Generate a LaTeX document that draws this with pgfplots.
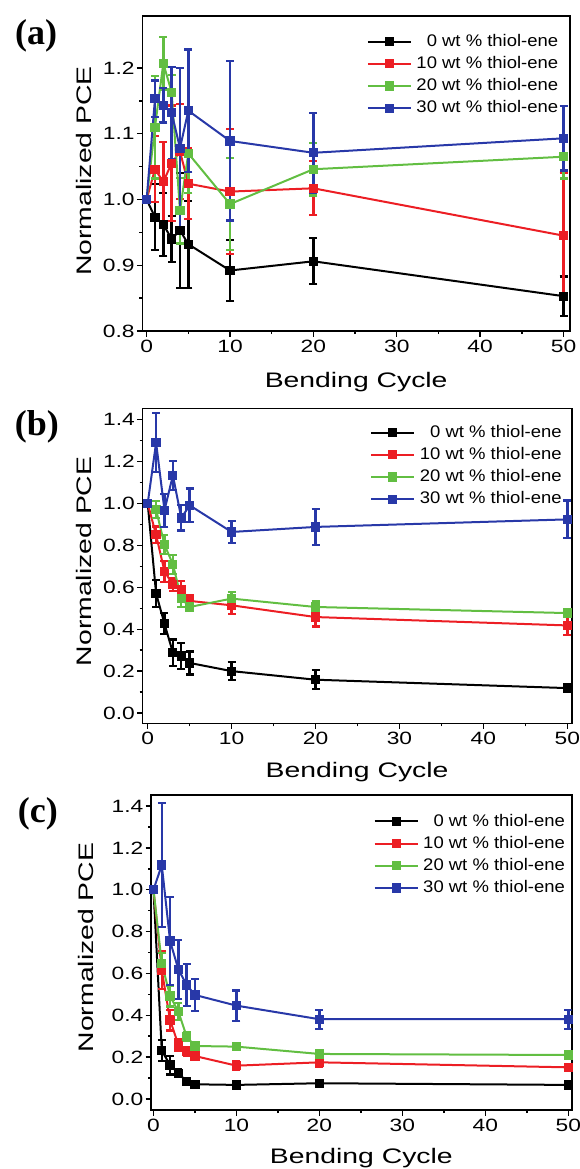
\documentclass[border=0pt]{standalone}
\usepackage{pgfplots}
\pgfplotsset{compat=1.18}
\usepackage{pgfplotstable}
\usepackage{fontspec}
\setmainfont{Liberation Sans}
\newfontfamily\labelserif{Liberation Serif}
\newfontfamily\tickfont[FakeStretch=1.28]{Liberation Sans}
\newfontfamily\titlefont[FakeStretch=1.35]{Liberation Sans}
\newfontfamily\legfont[FakeStretch=1.1]{Liberation Sans}
\definecolor{cK}{RGB}{0,0,0}
\definecolor{cR}{RGB}{236,30,36}
\definecolor{cG}{RGB}{98,190,66}
\definecolor{cB}{RGB}{40,56,168}

\pgfplotstableread{
x  k     ke    r     re    g     ge    b     be
0  1.000 0.000 1.000 0.000 1.000 0.000 1.000 0.000
1  0.973 0.050 1.046 0.050 1.110 0.078 1.153 0.028
2  0.962 0.048 1.027 0.060 1.207 0.040 1.143 0.026
3  0.940 0.035 1.055 0.088 1.163 0.026 1.132 0.070
4  0.953 0.087 1.073 0.072 0.983 0.050 1.078 0.122
5  0.932 0.066 1.024 0.054 1.070 0.060 1.135 0.093
10 0.892 0.046 1.012 0.095 0.993 0.070 1.089 0.121
20 0.906 0.035 1.017 0.041 1.046 0.040 1.071 0.061
50 0.853 0.030 0.945 0.095 1.065 0.033 1.093 0.049
}\dataA

\pgfplotstableread{
x  k     ke    r     re    g     ge    b     be
0  1.000 0.000 1.000 0.000 1.000 0.000 1.000 0.000
1  0.570 0.063 0.850 0.040 0.970 0.040 1.290 0.140
2  0.426 0.050 0.676 0.050 0.803 0.045 0.967 0.080
3  0.288 0.063 0.612 0.030 0.710 0.045 1.134 0.070
4  0.272 0.063 0.589 0.040 0.547 0.040 0.931 0.060
5  0.239 0.055 0.535 0.030 0.506 0.020 0.991 0.080
10 0.200 0.042 0.514 0.040 0.546 0.030 0.864 0.052
20 0.159 0.046 0.458 0.045 0.506 0.030 0.888 0.085
50 0.119 0.020 0.418 0.045 0.477 0.020 0.924 0.090
}\dataB

\pgfplotstableread{
x  k     ke    r     re    g     ge    b     be
0  1.000 0.000 1.000 0.000 1.000 0.000 1.000 0.000
1  0.231 0.050 0.616 0.090 0.648 0.050 1.118 0.295
2  0.162 0.045 0.377 0.050 0.492 0.050 0.755 0.210
3  0.123 0.020 0.258 0.030 0.417 0.040 0.619 0.140
4  0.083 0.015 0.226 0.020 0.298 0.020 0.545 0.100
5  0.070 0.010 0.205 0.020 0.253 0.015 0.497 0.077
10 0.067 0.010 0.159 0.020 0.250 0.015 0.446 0.072
20 0.075 0.010 0.175 0.020 0.215 0.015 0.381 0.045
50 0.067 0.010 0.151 0.015 0.210 0.015 0.381 0.045
}\dataC

\pgfplotsset{
  legend image code/.code={\draw[mark repeat=2,mark phase=2,#1] plot coordinates {(0pt,0pt) (21.5pt,0pt) (43pt,0pt)};},
}
\pgfplotsset{
  panel/.style={
    scale only axis,
    height=315pt,
    axis line style={line width=1.6pt},
    tick align=outside, tick pos=left,
    major tick length=5.5pt, minor tick length=3pt,
    every tick/.append style={black, line width=1.4pt},
    xtick={0,10,20,30,40,50}, minor x tick num=1, minor y tick num=1,
    tick label style={font=\tickfont\fontsize{17.8}{20}\selectfont},
    /pgf/number format/assume math mode=true,
    yticklabel style={inner sep=2pt, /pgf/number format/.cd, fixed, fixed zerofill, precision=1},
    xticklabel style={inner sep=3.5pt},
    xlabel={Bending Cycle}, ylabel={Normalized PCE},
    xlabel style={font=\titlefont\fontsize{21}{24}\selectfont, inner sep=0pt, anchor=north},
    ylabel style={font=\titlefont\fontsize{21}{24}\selectfont, inner sep=0pt, anchor=center},
    legend cell align=right,
    legend style={draw=none, fill=none, inner sep=0pt, outer sep=0pt,
      font=\legfont\fontsize{16.8}{20}\selectfont, row sep=2.7pt, column sep=3pt,
      nodes={inner sep=1.5pt, text height=13pt, text depth=3.5pt},
      anchor=north east},
  },
  ser/.style={line width=2pt, mark=square*, mark size=3.6pt,
    mark options={solid},
    error bars/.cd, y dir=both, y explicit,
    error bar style={line width=2.4pt, solid},
    error mark options={rotate=90, mark size=4pt, line width=2.2pt},
    /pgfplots/.cd},
}

\begin{document}
\begin{tikzpicture}
\useasboundingbox (0,0) rectangle (579pt,-1169pt);

% ---------- (a)
\begin{axis}[panel, at={(142.3pt,-16pt)}, anchor=north west, width=427.7pt,
  xmin=-0.52, xmax=50.78, ymin=0.8, ymax=1.279,
  ytick={0.8,0.9,1.0,1.1,1.2},
  xlabel style={at={(axis description cs:0.5,0)}, yshift=-41pt},
  ylabel style={at={(axis description cs:-0.136,0.508)}},
  legend style={at={(axis description cs:0.976,0.950)}}]
\addplot[cK, ser] table[x=x, y=k, y error=ke] {\dataA};
\addplot[cR, ser] table[x=x, y=r, y error=re] {\dataA};
\addplot[cG, ser] table[x=x, y=g, y error=ge] {\dataA};
\addplot[cB, ser] table[x=x, y=b, y error=be] {\dataA};
\legend{0 wt \% thiol-ene, 10 wt \% thiol-ene, 20 wt \% thiol-ene, 30 wt \% thiol-ene}
\end{axis}

% ---------- (b)
\begin{axis}[panel, at={(142.5pt,-408.3pt)}, anchor=north west, width=429.2pt,
  xmin=-0.62, xmax=50.52, ymin=-0.049, ymax=1.454,
  ytick={0,0.2,0.4,0.6,0.8,1.0,1.2,1.4},
  xlabel style={at={(axis description cs:0.5,0)}, yshift=-38.5pt},
  ylabel style={at={(axis description cs:-0.1366,0.514)}},
  legend style={at={(axis description cs:0.980,0.954)}}]
\addplot[cK, ser] table[x=x, y=k, y error=ke] {\dataB};
\addplot[cR, ser] table[x=x, y=r, y error=re] {\dataB};
\addplot[cG, ser] table[x=x, y=g, y error=ge] {\dataB};
\addplot[cB, ser] table[x=x, y=b, y error=be] {\dataB};
\legend{0 wt \% thiol-ene, 10 wt \% thiol-ene, 20 wt \% thiol-ene, 30 wt \% thiol-ene}
\end{axis}

% ---------- (c)
\begin{axis}[panel, at={(151pt,-795pt)}, anchor=north west, width=420.7pt,
  xmin=-0.3, xmax=50.41, ymin=-0.053, ymax=1.453,
  ytick={0,0.2,0.4,0.6,0.8,1.0,1.2,1.4},
  xlabel style={at={(axis description cs:0.5,0)}, yshift=-38.3pt},
  ylabel style={at={(axis description cs:-0.1545,0.516)}},
  legend style={at={(axis description cs:0.9876,0.947)}}]
\addplot[cK, ser] table[x=x, y=k, y error=ke] {\dataC};
\addplot[cR, ser] table[x=x, y=r, y error=re] {\dataC};
\addplot[cG, ser] table[x=x, y=g, y error=ge] {\dataC};
\addplot[cB, ser] table[x=x, y=b, y error=be] {\dataC};
\legend{0 wt \% thiol-ene, 10 wt \% thiol-ene, 20 wt \% thiol-ene, 30 wt \% thiol-ene}
\end{axis}

\node[font=\labelserif\bfseries\fontsize{36}{40}\selectfont] at (36pt,-36pt) {(a)};
\node[font=\labelserif\bfseries\fontsize{36}{40}\selectfont] at (36.9pt,-426.7pt) {(b)};
\node[font=\labelserif\bfseries\fontsize{36}{40}\selectfont] at (37.8pt,-814pt) {(c)};
\end{tikzpicture}
\end{document}
